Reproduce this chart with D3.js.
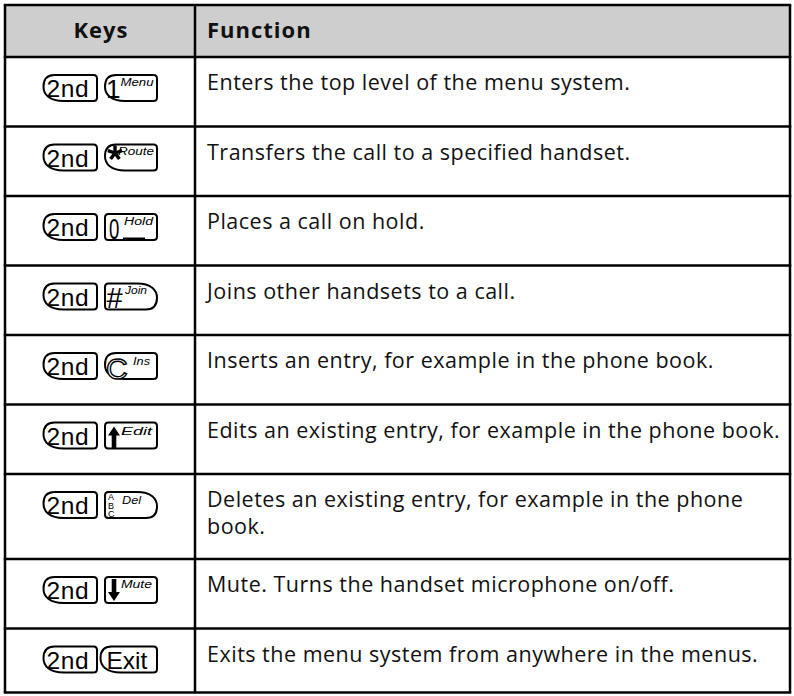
<!DOCTYPE html>
<html><head><meta charset="utf-8">
<script src="https://cdn.jsdelivr.net/npm/d3@7"></script>
<style>body{margin:0;background:#fff}svg{display:block}</style>
</head><body>
<svg id="c" width="794" height="696"></svg>
<script>
// ---- data ----
const headers = ["Keys", "Function"];
const firstKeys = ["2nd","2nd","2nd","2nd","2nd","2nd","2nd","2nd","2nd"];
const secondKeys = ["1","*","0","#","C","up","ABC","down","Exit"];
const secondLabels = ["Menu","Route","Hold","Join","Ins","Edit","Del","Mute",""];
const secondShapes = ["left","left","rect","right","left","rect","right","rect","left"];
const functions = [
  "Enters the top level of the menu system.",
  "Transfers the call to a specified handset.",
  "Places a call on hold.",
  "Joins other handsets to a call.",
  "Inserts an entry, for example in the phone book.",
  "Edits an existing entry, for example in the phone book.",
  "Deletes an existing entry, for example in the phone\nbook.",
  "Mute. Turns the handset microphone on/off.",
  "Exits the menu system from anywhere in the menus."
];

// ---- layout ----
const svg = d3.select("#c");
const X0 = 5, X1 = 790, XD = 195;
const headerTop = 5, headerH = 52;
const baseRowH = 69.5, lineH = 15.5;
const lastRowH = 64;
const lines = functions.map(f => f.split("\n"));
const rowH = lines.map((l, i) => i === lines.length - 1 ? lastRowH : baseRowH + (l.length - 1) * lineH);
const rowTop = [];
let acc = headerTop + headerH;
rowH.forEach(h => { rowTop.push(acc); acc += h; });
const Y1 = acc;

const bodyFont = "'Open Sans', 'Noto Sans', sans-serif";
const keyFont = "'Liberation Sans', Arial, sans-serif";

// header background
svg.append("rect").attr("x", X0).attr("y", headerTop).attr("width", X1 - X0).attr("height", headerH).attr("fill", "#cecece");

// header text
svg.append("text").attr("x", (X0 + XD) / 2 + 1).attr("y", headerTop + 33).attr("text-anchor", "middle")
  .attr("font-family", bodyFont).attr("font-weight", 700).attr("font-size", 22).attr("letter-spacing", 1).attr("fill", "#111").text(headers[0]);
svg.append("text").attr("x", XD + 12).attr("y", headerTop + 33)
  .attr("font-family", bodyFont).attr("font-weight", 700).attr("font-size", 22).attr("letter-spacing", 1).attr("fill", "#111").text(headers[1]);

// rows
const rows = svg.selectAll("g.row").data(functions).join("g").attr("class", "row")
  .attr("transform", (d, i) => `translate(0,${rowTop[i]})`);

rows.each(function(d, i) {
  const g = d3.select(this);
  g.append("text").attr("x", XD + 12).attr("y", 33)
    .attr("font-family", bodyFont).attr("font-size", 21.5).attr("letter-spacing", 0.5).attr("fill", "#111")
    .selectAll("tspan").data(lines[i]).join("tspan")
    .attr("x", XD + 12).attr("dy", (t, j) => j === 0 ? 0 : 26.5).text(t => t);
});

function keyPath(shape, x, y, w, h) {
  const r = 3.5;
  const p = d3.path();
  if (shape === "rect") {
    p.moveTo(x + r, y); p.lineTo(x + w - r, y); p.quadraticCurveTo(x + w, y, x + w, y + r);
    p.lineTo(x + w, y + h - r); p.quadraticCurveTo(x + w, y + h, x + w - r, y + h);
    p.lineTo(x + r, y + h); p.quadraticCurveTo(x, y + h, x, y + h - r);
    p.lineTo(x, y + r); p.quadraticCurveTo(x, y, x + r, y); p.closePath();
  } else if (shape === "left") {
    p.moveTo(x + 11, y); p.lineTo(x + w - r, y); p.quadraticCurveTo(x + w, y, x + w, y + r);
    p.lineTo(x + w, y + h - r); p.quadraticCurveTo(x + w, y + h, x + w - r, y + h);
    p.lineTo(x + 20, y + h);
    p.bezierCurveTo(x + 6, y + h, x, y + h * 0.75, x, y + h * 0.45);
    p.bezierCurveTo(x, y + h * 0.15, x + 4, y, x + 11, y); p.closePath();
  } else {
    p.moveTo(x + r, y); p.lineTo(x + w - 20, y);
    p.bezierCurveTo(x + w - 6, y, x + w, y + h * 0.25, x + w, y + h * 0.55);
    p.bezierCurveTo(x + w, y + h * 0.85, x + w - 4, y + h, x + w - 11, y + h);
    p.lineTo(x + r, y + h); p.quadraticCurveTo(x, y + h, x, y + h - r);
    p.lineTo(x, y + r); p.quadraticCurveTo(x, y, x + r, y); p.closePath();
  }
  return p.toString();
}

const labelPos = { "Menu": [15.5, 33], "Route": [13, 36], "Hold": [19, 29], "Join": [20, 22], "Ins": [28, 17], "Edit": [16, 31], "Del": [17, 19], "Mute": [16, 31] };

const kY = 18, kH = 26;
rows.each(function(d, i) {
  const g = d3.select(this);
  // first key "2nd"
  const ax = 43.5, aw = 53.5;
  g.append("path").attr("d", keyPath("left", ax, kY, aw, kH)).attr("fill", "#fff").attr("stroke", "#000").attr("stroke-width", 2);
  g.append("text").attr("x", ax + 3).attr("y", kY + 22).attr("font-family", keyFont).attr("font-size", 24.5).attr("letter-spacing", 0.6).attr("fill", "#000").text(firstKeys[i]);
  // second key
  const bx = 105, bw = 52;
  const sh = secondShapes[i];
  const k = secondKeys[i];
  const isExit = k === "Exit";
  const bx2 = isExit ? 100.5 : bx, bw2 = isExit ? 56.5 : bw;
  g.append("path").attr("d", keyPath(sh, bx2, kY, bw2, kH)).attr("fill", "#fff").attr("stroke", "#000").attr("stroke-width", 2);
  const lab = secondLabels[i];
  if (k === "up" || k === "down") {
    const ar = d3.path();
    const cx = bx + 9, t = kY + 4, b = kY + 26;
    if (k === "up") {
      ar.moveTo(cx, t); ar.lineTo(cx + 6, t + 9); ar.lineTo(cx + 2.3, t + 9); ar.lineTo(cx + 2.3, b);
      ar.lineTo(cx - 2.3, b); ar.lineTo(cx - 2.3, t + 9); ar.lineTo(cx - 6, t + 9); ar.closePath();
    } else {
      const tt = kY + 2, bb = kY + 24;
      ar.moveTo(cx, bb); ar.lineTo(cx + 6, bb - 9); ar.lineTo(cx + 2.3, bb - 9); ar.lineTo(cx + 2.3, tt);
      ar.lineTo(cx - 2.3, tt); ar.lineTo(cx - 2.3, bb - 9); ar.lineTo(cx - 6, bb - 9); ar.closePath();
    }
    g.append("path").attr("d", ar.toString()).attr("fill", "#000");
  } else if (k === "ABC") {
    g.append("text").attr("font-family", keyFont).attr("font-size", 9).attr("fill", "#000")
      .selectAll("tspan").data(["A", "B", "C"]).join("tspan")
      .attr("x", bx + 3).attr("y", (c, j) => kY + 8 + j * 8.5).text(c => c);
  } else if (k === "Exit") {
    g.append("text").attr("x", bx2 + 6).attr("y", kY + 22).attr("font-family", keyFont).attr("font-size", 24.5).attr("fill", "#000").text("Exit");
  } else if (k === "*") {
    // five-armed asterisk
    const cx = bx + 10, cy = kY + 8.5, L = 7.5;
    const arms = [-90, -18, 54, 126, 198];
    g.selectAll("line.ast").data(arms).join("line").attr("class", "ast")
      .attr("x1", cx).attr("y1", cy)
      .attr("x2", a => cx + L * Math.cos(a * Math.PI / 180))
      .attr("y2", a => cy + L * Math.sin(a * Math.PI / 180))
      .attr("stroke", "#000").attr("stroke-width", 3.4);
  } else if (k === "0") {
    g.append("text").attr("transform", `translate(${bx + 4},${kY + 25}) scale(0.62,1)`)
      .attr("font-family", keyFont).attr("font-size", 30).attr("fill", "#000").text("0");
    g.append("line").attr("x1", bx + 18).attr("x2", bx + 40).attr("y1", kY + 24.5).attr("y2", kY + 24.5).attr("stroke", "#000").attr("stroke-width", 2);
  } else if (k === "C") {
    g.append("text").attr("x", bx + 1).attr("y", kY + 25.5).attr("font-family", keyFont).attr("font-size", 30).attr("fill", "#fff").attr("stroke", "#000").attr("stroke-width", 1.4).text("C");
  } else if (k === "#") {
    g.append("text").attr("x", bx + 1.5).attr("y", kY + 24).attr("font-family", keyFont).attr("font-size", 29).attr("fill", "#000").text("#");
  } else {
    g.append("text").attr("x", bx + 1).attr("y", kY + 22.5).attr("font-family", keyFont).attr("font-size", 26).attr("fill", "#000").text(k);
  }
  if (lab) {
    const [dx, lw] = labelPos[lab];
    const big = lab === "Del" || lab === "Ins" || lab === "Edit";
    g.append("text").attr("x", bx + dx).attr("y", kY + (big ? 12 : 10.5)).attr("font-family", keyFont).attr("font-style", "italic")
      .attr("font-size", big ? 11.5 : 10).attr("textLength", lw).attr("lengthAdjust", "spacingAndGlyphs")
      .attr("fill", "#000").text(lab);
  }
});

// grid lines
const hLines = [headerTop, headerTop + headerH, ...rowTop.slice(1), Y1];
svg.selectAll("line.h").data(hLines).join("line").attr("class", "h")
  .attr("x1", X0 - 1.25).attr("x2", X1 + 1.25).attr("y1", d => d).attr("y2", d => d).attr("stroke", "#000").attr("stroke-width", 2.5);
svg.selectAll("line.v").data([X0, XD, X1]).join("line").attr("class", "v")
  .attr("x1", d => d).attr("x2", d => d).attr("y1", headerTop).attr("y2", Y1).attr("stroke", "#000").attr("stroke-width", 2.5);
</script>
</body></html>
